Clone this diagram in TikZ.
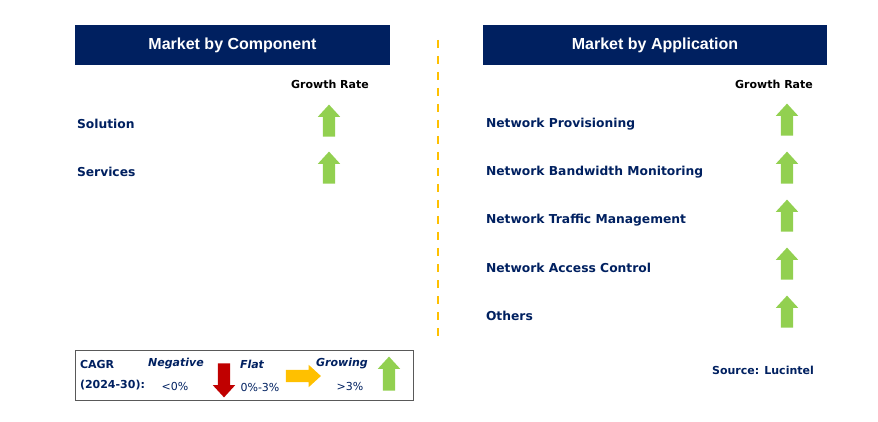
\documentclass[tikz,border=0pt]{standalone}
\usepackage{fontspec}
\setmainfont{DejaVu Sans}
\newfontfamily\headfont{Liberation Sans}
\usetikzlibrary{shapes.arrows}
\definecolor{navy}{RGB}{0,32,96}
\definecolor{txtblue}{RGB}{0,32,96}
\definecolor{growgreen}{RGB}{146,208,80}
\definecolor{flatorange}{RGB}{255,192,0}
\definecolor{negred}{RGB}{192,0,0}
\begin{document}
\begin{tikzpicture}[x=1pt, y=-1pt,
            every node/.style = {inner sep=0pt, outer sep=0pt},
            header/.style = {fill=navy, text=white, font=\headfont\bfseries\fontsize{16}{18}\selectfont, minimum height=40pt},
            rowlabel/.style = {anchor=west, text=txtblue, font=\bfseries\fontsize{12.3}{14}\selectfont},
            ratehead/.style = {text=black, font=\bfseries\fontsize{11}{13}\selectfont},
            fatarrow/.style = {single arrow, inner xsep=0pt, inner ysep=6pt, single arrow head extend=5pt, single arrow tip angle=85, shape border uses incircle=false},
            uparrow/.style = {fatarrow, fill=growgreen, rotate=90, minimum height=32pt},
            legitalic/.style = {text=txtblue, font=\bfseries\itshape\fontsize{11}{13}\selectfont},
            legvalue/.style = {text=txtblue, font=\fontsize{11}{13}\selectfont}]
            \useasboundingbox (0,0) rectangle (878,422);
            % headers
            \node[header, minimum width=315pt] (comphead) at (232.5,45) {Market by Component};
            \node[header, minimum width=344pt] (apphead) at (655,45) {Market by Application};
            \draw[flatorange, line width=1.2pt, dash pattern=on 8pt off 8pt] (438,40) -- (438,340);
            % left side
            \node[ratehead] (comprate) at (330,84) {Growth Rate};
            \node[rowlabel] (solution) at (77,124) {Solution};
            \node[rowlabel] (services) at (77,172) {Services};
            \node[uparrow] (solarrow) at (329,124) {};
            \node[uparrow] (serarrow) at (329,171) {};
            % right side
            \node[ratehead] (apprate) at (774,84) {Growth Rate};
            \foreach \name [count=\i] in {Network Provisioning, Network Bandwidth Monitoring, Network Traffic Management, Network Access Control, Others}
            {
                \node[rowlabel] (app\i) at (486,76+48*\i) {\name};
                \node[uparrow] (apparrow\i) at (787,75+48*\i) {};
            }
            % legend
            \node[draw=gray!70!black, line width=1pt, minimum width=338pt, minimum height=50pt] (legend) at (244,375) {};
            \node[anchor=west, align=left, text=txtblue, font=\bfseries\fontsize{11}{20}\selectfont] (cagr) at (80,375) {CAGR\\(2024-30):};
            \node[legitalic] (neg) at (176,364) {Negative};
            \node[legvalue] (negval) at (175,386) {<0\%};
            \node[fatarrow, fill=negred, rotate=-90, minimum height=34pt] (negarrow) at (224,377) {};
            \node[legitalic] (flat) at (252,364) {Flat};
            \node[legvalue] (flatval) at (260,387) {0\%-3\%};
            \node[fatarrow, fill=flatorange, minimum height=35pt] (flatarrow) at (300,376) {};
            \node[legitalic] (grow) at (342,364) {Growing};
            \node[legvalue] (growval) at (350,386) {>3\%};
            \node[uparrow, minimum height=34pt] (growarrow) at (389,377) {};
            \node[text=txtblue, font=\bfseries\fontsize{11}{13}\selectfont] (source) at (763,370) {Source: Lucintel};
        \end{tikzpicture}
\end{document}
